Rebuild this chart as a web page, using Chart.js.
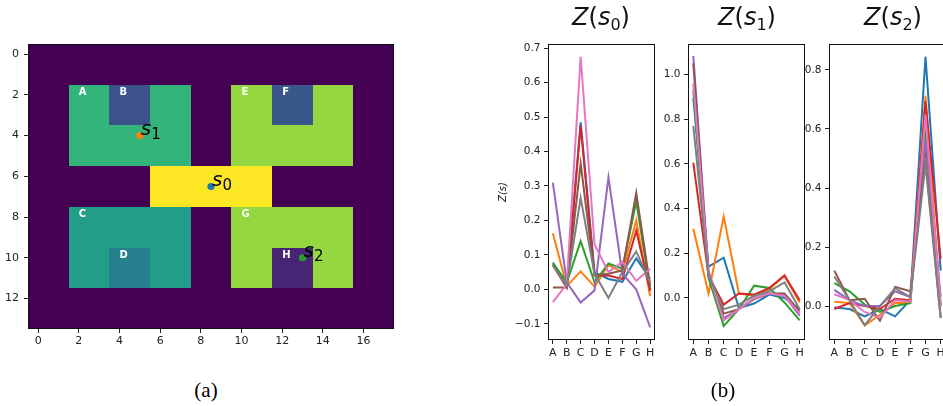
<!DOCTYPE html>
<html>
<head>
<meta charset="utf-8">
<script src="https://cdn.jsdelivr.net/npm/chart.js@4.4.1/dist/chart.umd.min.js"></script>
<style>
html,body{margin:0;padding:0;width:943px;height:406px;overflow:hidden;background:#fff;}
body{position:relative;font-family:"DejaVu Sans",sans-serif;}
canvas{position:absolute;}
.ttl{position:absolute;top:3px;font-family:"DejaVu Sans",sans-serif;font-size:24px;color:#111;white-space:nowrap;transform:translateX(-50%);}
.ttl i{font-style:oblique;}
.ttl sub{font-size:16px;vertical-align:-5px;line-height:0;}
.cap{position:absolute;top:378px;font-family:"Liberation Serif","Times New Roman",serif;font-size:21px;color:#000;transform:translateX(-50%);}
</style>
</head>
<body>
<canvas id="ca" width="400" height="350" style="left:0;top:0"></canvas>
<canvas id="c0" width="180" height="360" style="left:490px;top:0"></canvas>
<canvas id="c1" width="170" height="360" style="left:640px;top:0"></canvas>
<canvas id="c2" width="170" height="360" style="left:780px;top:0"></canvas>
<div class="ttl" style="left:601px"><i>Z</i>(<i>s</i><sub>0</sub>)</div>
<div class="ttl" style="left:747px"><i>Z</i>(<i>s</i><sub>1</sub>)</div>
<div class="ttl" style="left:893px"><i>Z</i>(<i>s</i><sub>2</sub>)</div>
<div class="cap" style="left:206px">(a)</div>
<div class="cap" style="left:723px">(b)</div>
<script>
// ---------- Panel (a) data ----------
const gridRows = [
  "..................",
  "..................",
  "..AABBAA..EEFFEE..",
  "..AABBAA..EEFFEE..",
  "..AAAAAA..EEEEEE..",
  "..AAAAAA..EEEEEE..",
  "......OOOOOO......",
  "......OOOOOO......",
  "..CCCCCC..GGGGGG..",
  "..CCCCCC..GGGGGG..",
  "..CCDDCC..GGHHGG..",
  "..CCDDCC..GGHHGG..",
  "..................",
  ".................."
];
const cellCodes  = ['.', 'A', 'B', 'C', 'D', 'E', 'F', 'G', 'H', 'O'];
const cellValues = [0.0, 0.65, 0.25, 0.55, 0.43, 0.84, 0.27, 0.84, 0.10, 1.0];
const regionLabels = ['A','B','C','D','E','F','G','H'];
const regionLabelX = [2, 4, 2, 4, 10, 12, 10, 12];
const regionLabelY = [2, 2, 8, 10, 2, 2, 8, 10];
const stateNames = ['0', '1', '2'];
const stateX = [8.5, 5, 13];
const stateY = [6.5, 4, 10];
const imgXTicks = [0, 2, 4, 6, 8, 10, 12, 14, 16];
const imgYTicks = [0, 2, 4, 6, 8, 10, 12];

// ---------- Panel (b) data ----------
const categories = ['A','B','C','D','E','F','G','H'];
// series order: blue, orange, green, red, purple, brown, pink, gray
const z0Blue   = [0.075, 0.010, 0.485, 0.050, 0.030, 0.022, 0.090, 0.030];
const z0Orange = [0.163, 0.010, 0.052, 0.008, 0.070, 0.050, 0.200, -0.020];
const z0Green  = [0.078, 0.020, 0.140, 0.020, 0.075, 0.060, 0.255, 0.000];
const z0Red    = [0.070, 0.005, 0.475, 0.040, 0.040, 0.030, 0.170, -0.005];
const z0Purple = [0.310, 0.020, -0.038, -0.003, 0.325, 0.045, 0.000, -0.110];
const z0Brown  = [0.005, 0.005, 0.365, 0.040, 0.045, 0.055, 0.280, 0.010];
const z0Pink   = [-0.037, 0.015, 0.675, 0.130, 0.050, 0.080, 0.025, 0.060];
const z0Gray   = [0.070, 0.010, 0.265, 0.045, -0.025, 0.050, 0.110, 0.020];

const z1Blue   = [0.895, 0.140, 0.180, -0.045, -0.025, 0.015, 0.000, -0.050];
const z1Orange = [0.310, 0.020, 0.365, 0.020, 0.010, 0.040, 0.100, -0.020];
const z1Green  = [0.930, 0.090, -0.125, -0.050, 0.055, 0.045, -0.020, -0.100];
const z1Red    = [0.605, 0.100, -0.030, 0.020, 0.015, 0.045, 0.100, -0.010];
const z1Purple = [1.083, 0.120, -0.090, -0.050, 0.000, 0.020, 0.010, -0.080];
const z1Brown  = [1.050, 0.100, -0.070, -0.050, -0.005, 0.020, 0.020, -0.060];
const z1Pink   = [0.960, 0.110, -0.100, -0.050, 0.000, 0.020, 0.010, -0.070];
const z1Gray   = [0.770, 0.100, -0.050, -0.030, 0.010, 0.030, 0.070, -0.050];

const z2Blue   = [-0.005, -0.010, -0.035, -0.010, -0.035, 0.020, 0.845, 0.120];
const z2Orange = [0.015, 0.010, -0.065, -0.030, 0.010, 0.010, 0.712, 0.000];
const z2Green  = [0.078, 0.050, 0.005, -0.020, 0.000, 0.010, 0.600, 0.000];
const z2Red    = [-0.010, 0.010, 0.000, -0.010, 0.025, 0.020, 0.694, 0.160];
const z2Purple = [0.055, 0.020, 0.000, 0.000, 0.050, 0.030, 0.560, 0.030];
const z2Brown  = [0.120, 0.020, 0.025, -0.050, 0.065, 0.050, 0.500, -0.040];
const z2Pink   = [0.040, 0.020, -0.020, -0.040, 0.020, 0.015, 0.648, 0.000];
const z2Gray   = [0.100, 0.020, -0.065, 0.000, 0.060, 0.030, 0.480, -0.040];

const z0Ticks = [-0.1, 0.0, 0.1, 0.2, 0.3, 0.4, 0.5, 0.6, 0.7];
const z1Ticks = [0.0, 0.2, 0.4, 0.6, 0.8, 1.0];
const z2Ticks = [0.0, 0.2, 0.4, 0.6, 0.8];

// ---------- styles ----------
const seriesColors = ['#1f77b4','#ff7f0e','#2ca02c','#d62728','#9467bd','#8c564b','#e377c2','#7f7f7f'];
const stateColors = ['#1f77b4','#ff7f0e','#2ca02c'];
const viridisStops = ['#440154','#482475','#414487','#355f8d','#2a788e','#21918c','#22a884','#44bf70','#7ad151','#bddf26','#fde725'];

function hexRgb(h){return [parseInt(h.substr(1,2),16),parseInt(h.substr(3,2),16),parseInt(h.substr(5,2),16)];}
function viridis(t){
  t=Math.max(0,Math.min(1,t));
  const p=t*(viridisStops.length-1), i=Math.min(Math.floor(p),viridisStops.length-2), f=p-i;
  const a=hexRgb(viridisStops[i]), b=hexRgb(viridisStops[i+1]);
  return 'rgb('+a.map((v,k)=>Math.round(v+(b[k]-v)*f)).join(',')+')';
}
const fmt = v => { const s=(Math.round(v*10)/10).toFixed(1); return s.startsWith('-') ? '\u2212'+s.slice(1) : s; };

const framePlugin = {
  id:'frame',
  afterDraw(chart){
    const {ctx, chartArea:a} = chart;
    ctx.save(); ctx.strokeStyle='#111'; ctx.lineWidth=1;
    ctx.strokeRect(Math.round(a.left)+0.5, Math.round(a.top)+0.5, Math.round(a.right-a.left)-1, Math.round(a.bottom-a.top)-1);
    ctx.restore();
  }
};

const heatPlugin = {
  id:'heat',
  beforeDatasetsDraw(chart){
    const {ctx, scales:{x, y}} = chart;
    ctx.save();
    gridRows.forEach((row, r) => {
      for (let c=0;c<row.length;c++){
        const v = cellValues[cellCodes.indexOf(row[c])];
        const x0=Math.round(x.getPixelForValue(c-0.5)), x1=Math.round(x.getPixelForValue(c+0.5));
        const y0=Math.round(y.getPixelForValue(r-0.5)), y1=Math.round(y.getPixelForValue(r+0.5));
        ctx.fillStyle = viridis(v);
        ctx.fillRect(Math.min(x0,x1), Math.min(y0,y1), Math.abs(x1-x0), Math.abs(y1-y0));
      }
    });
    ctx.fillStyle='#fff'; ctx.font='bold 10px "DejaVu Sans"'; ctx.textAlign='left'; ctx.textBaseline='alphabetic';
    regionLabels.forEach((t,i)=>{ ctx.fillText(t, x.getPixelForValue(regionLabelX[i]), y.getPixelForValue(regionLabelY[i])); });
    ctx.restore();
  },
  afterDatasetsDraw(chart){
    const {ctx, scales:{x, y}} = chart;
    ctx.save(); ctx.fillStyle='#000'; ctx.textBaseline='alphabetic'; ctx.textAlign='left';
    stateNames.forEach((n,i)=>{
      const px=x.getPixelForValue(stateX[i]), py=y.getPixelForValue(stateY[i]);
      ctx.font='oblique 20px "DejaVu Sans"';
      ctx.fillText('s', px+1, py-1);
      const w=ctx.measureText('s').width;
      ctx.font='15px "DejaVu Sans"';
      ctx.fillText(n, px+1+w, py+3);
    });
    ctx.restore();
  }
};

new Chart(document.getElementById('ca'), {
  type:'scatter',
  data:{datasets:[{data:stateX.map((v,i)=>({x:v,y:stateY[i]})), backgroundColor:stateColors, borderWidth:0, pointRadius:3.6}]},
  options:{
    responsive:false, animation:false, devicePixelRatio:1,
    layout:{padding:{left:0, top:44, right:6, bottom:0}},
    plugins:{legend:{display:false}, tooltip:{enabled:false}},
    scales:{
      x:{type:'linear', min:-0.5, max:17.5,
         afterBuildTicks:s=>{s.ticks=imgXTicks.map(v=>({value:v}));},
         afterFit:s=>{s.height=21;},
         ticks:{color:'#222', font:{family:'DejaVu Sans', size:11}, padding:2, maxRotation:0, autoSkip:false},
         grid:{display:true, drawOnChartArea:false, tickLength:4, tickColor:'#222'}, border:{display:false}},
      y:{type:'linear', reverse:true, min:-0.5, max:13.5,
         afterBuildTicks:s=>{s.ticks=imgYTicks.map(v=>({value:v}));},
         afterFit:s=>{s.width=28;},
         ticks:{color:'#222', font:{family:'DejaVu Sans', size:11}, padding:5, autoSkip:false},
         grid:{display:true, drawOnChartArea:false, tickLength:4, tickColor:'#222'}, border:{display:false}}
    }
  },
  plugins:[heatPlugin, framePlugin]
});

function lineChart(id, series, yTicks, ymin, ymax, yw, pr, showTitle){
  new Chart(document.getElementById(id), {
    type:'line',
    data:{datasets:series.map((vals,i)=>({
      data:vals.map((v,j)=>({x:j,y:v})), borderColor:seriesColors[i], backgroundColor:seriesColors[i],
      borderWidth:2, pointRadius:0, tension:0, fill:false, order:series.length-1-i}))},
    options:{
      responsive:false, animation:false, devicePixelRatio:1,
      layout:{padding:{left:0, top:44, right:pr, bottom:0}},
      plugins:{legend:{display:false}, tooltip:{enabled:false}},
      scales:{
        x:{type:'linear', min:-0.35, max:7.35,
           afterBuildTicks:s=>{s.ticks=categories.map((c,i)=>({value:i}));},
           afterFit:s=>{s.height=20;},
           ticks:{callback:v=>categories[Math.round(v)], color:'#222', font:{family:'DejaVu Sans', size:11}, padding:3, maxRotation:0, autoSkip:false},
           grid:{display:true, drawOnChartArea:false, tickLength:4, tickColor:'#222'}, border:{display:false}},
        y:{type:'linear', min:ymin, max:ymax,
           afterBuildTicks:s=>{s.ticks=yTicks.map(v=>({value:v}));},
           afterFit:s=>{s.width=yw;},
           ticks:{callback:v=>fmt(v), color:'#222', font:{family:'DejaVu Sans', size:10.5}, padding:3.5, autoSkip:false},
           grid:{display:true, drawOnChartArea:false, tickLength:4, tickColor:'#222'}, border:{display:false},
           title:{display:showTitle, text:'Z(s)', color:'#222', font:{family:'DejaVu Sans', size:10, style:'italic'}, padding:{top:7, bottom:0}}}
      }
    },
    plugins:[framePlugin]
  });
}

lineChart('c0', [z0Blue,z0Orange,z0Green,z0Red,z0Purple,z0Brown,z0Pink,z0Gray], z0Ticks, -0.147, 0.712, 58, 15, true);
lineChart('c1', [z1Blue,z1Orange,z1Green,z1Red,z1Purple,z1Brown,z1Pink,z1Gray], z1Ticks, -0.188, 1.136, 48, 5, false);
lineChart('c2', [z2Blue,z2Orange,z2Green,z2Red,z2Purple,z2Brown,z2Pink,z2Gray], z2Ticks, -0.115, 0.888, 49, 4, false);
</script>
</body>
</html>
